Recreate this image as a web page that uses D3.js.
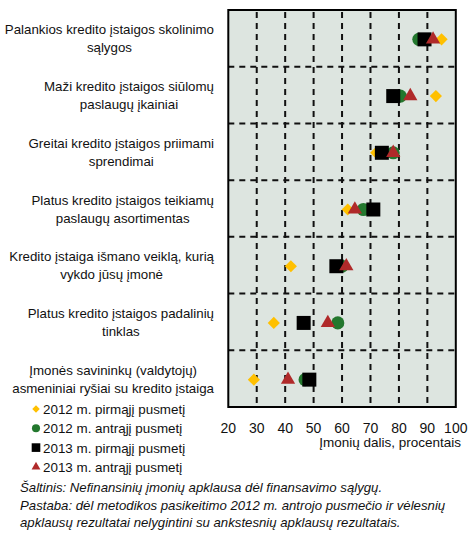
<!DOCTYPE html>
<html>
<head>
<meta charset="utf-8">
<script src="https://cdn.jsdelivr.net/npm/d3@7"></script>
<style>
  body { margin: 0; background: #fff; }
  svg { display: block; font-family: "Liberation Sans", Arial, sans-serif; }
</style>
</head>
<body>
<svg id="chart" width="469" height="534"></svg>
<script>
const categories = [
  ["Palankios kredito įstaigos skolinimo", "sąlygos"],
  ["Maži kredito įstaigos siūlomų", "paslaugų įkainiai"],
  ["Greitai kredito įstaigos priimami", "sprendimai"],
  ["Platus kredito įstaigos teikiamų", "paslaugų asortimentas"],
  ["Kredito įstaiga išmano veiklą, kurią", "vykdo jūsų įmonė"],
  ["Platus kredito įstaigos padalinių", "tinklas"],
  ["Įmonės savininkų (valdytojų)", "asmeniniai ryšiai su kredito įstaiga"]
];
const h1_2012 = [95, 93, 72, 62, 42, 36, 29];
const h2_2012 = [87, 80.5, 78, 67.5, 60, 58.5, 47];
const h1_2013 = [89, 78, 74, 71, 58, 46.5, 48.5];
const h2_2013 = [92, 84, 78, 64.5, 61.5, 55, 41];
const seriesNames = ["2012 m. pirmąjį pusmetį", "2012 m. antrąjį pusmetį", "2013 m. pirmąjį pusmetį", "2013 m. antrąjį pusmetį"];
const xTicks = [20, 30, 40, 50, 60, 70, 80, 90, 100];
const axisTitle = "Įmonių dalis, procentais";
const notes = [
  "Šaltinis: Nefinansinių įmonių apklausa dėl finansavimo sąlygų.",
  "Pastaba: dėl metodikos pasikeitimo 2012 m. antrojo pusmečio ir vėlesnių",
  "apklausų rezultatai nelygintini su ankstesnių apklausų rezultatais."
];

const series = [
  { name: seriesNames[0], values: h1_2012, color: "#ffc000", type: "diamond" },
  { name: seriesNames[1], values: h2_2012, color: "#23782e", type: "circle" },
  { name: seriesNames[2], values: h1_2013, color: "#000000", type: "square" },
  { name: seriesNames[3], values: h2_2013, color: "#b02a2a", type: "triangle" }
];

const svg = d3.select("#chart");
const plot = { left: 228.3, right: 455.8, top: 10, bottom: 407 };

const x = d3.scaleLinear().domain([20, 100]).range([plot.left, plot.right]);
const y = d3.scaleBand().domain(d3.range(categories.length)).range([plot.top, plot.bottom]);

function symbolPath(type, scale) {
  if (type === "diamond") return d3.symbol(d3.symbolSquare, 74 * scale)();
  if (type === "circle") return d3.symbol(d3.symbolCircle, 135 * scale)();
  if (type === "square") return d3.symbol(d3.symbolSquare, 196 * scale)();
  return d3.symbol(d3.symbolTriangle, 88 * scale)();
}
function symbolRotate(type) { return type === "diamond" ? " rotate(45)" : ""; }

// plot background
svg.append("rect")
  .attr("x", plot.left).attr("y", plot.top)
  .attr("width", plot.right - plot.left).attr("height", plot.bottom - plot.top)
  .attr("fill", "#dde5e0");

// grid
const grid = svg.append("g").attr("stroke", "#111").attr("stroke-width", 2).attr("stroke-dasharray", "6,5");
grid.selectAll(".vg").data(xTicks.slice(1, -1)).enter().append("line")
  .attr("x1", d => x(d)).attr("x2", d => x(d))
  .attr("y1", plot.top + 2).attr("y2", plot.bottom);
grid.selectAll(".hg").data(d3.range(1, categories.length)).enter().append("line")
  .attr("x1", plot.left).attr("x2", plot.right)
  .attr("y1", d => y(d)).attr("y2", d => y(d));

// border
svg.append("rect")
  .attr("x", plot.left).attr("y", plot.top)
  .attr("width", plot.right - plot.left).attr("height", plot.bottom - plot.top)
  .attr("fill", "none").attr("stroke", "#000").attr("stroke-width", 2);

// markers
series.forEach(s => {
  svg.append("g").selectAll("path").data(s.values).enter().append("path")
    .attr("d", symbolPath(s.type, 1))
    .attr("transform", (d, i) => `translate(${x(d)},${y(i) + y.bandwidth() / 2 + 1})` + symbolRotate(s.type))
    .attr("fill", s.color);
});

// x tick labels
svg.append("g").selectAll("text").data(xTicks).enter().append("text")
  .attr("x", d => x(d)).attr("y", 433)
  .attr("text-anchor", "middle")
  .attr("font-size", 14).attr("fill", "#111")
  .text(d => d);

svg.append("text")
  .attr("x", 461).attr("y", 447)
  .attr("text-anchor", "end")
  .attr("font-size", 13.5).attr("fill", "#111")
  .text(axisTitle);

// category labels: right-aligned block, lines centred in block
const labelRight = 214;
categories.forEach((lines, i) => {
  const g = svg.append("g");
  const cy = y(i) + y.bandwidth() / 2;
  const texts = lines.map((t, j) => g.append("text")
    .attr("y", cy + (j - (lines.length - 1) / 2) * 18 + 5)
    .attr("font-size", 13.3).attr("fill", "#111")
    .attr("text-anchor", "middle")
    .text(t));
  const w = d3.max(texts, t => t.node().getComputedTextLength());
  texts.forEach(t => t.attr("x", labelRight - w / 2));
});

// legend
const legend = svg.append("g");
series.forEach((s, i) => {
  const ly = 409 + i * 19.3;
  legend.append("path")
    .attr("d", symbolPath(s.type, 0.38))
    .attr("transform", `translate(36,${ly})` + symbolRotate(s.type))
    .attr("fill", s.color);
  legend.append("text")
    .attr("x", 43).attr("y", ly + 5)
    .attr("font-size", 13.4).attr("fill", "#111")
    .text(s.name);
});

// notes
svg.append("g").selectAll("text").data(notes).enter().append("text")
  .attr("x", 20).attr("y", (d, i) => 492 + i * 17.5)
  .attr("font-size", 13.2).attr("font-style", "italic").attr("fill", "#111")
  .text(d => d);
</script>
</body>
</html>
